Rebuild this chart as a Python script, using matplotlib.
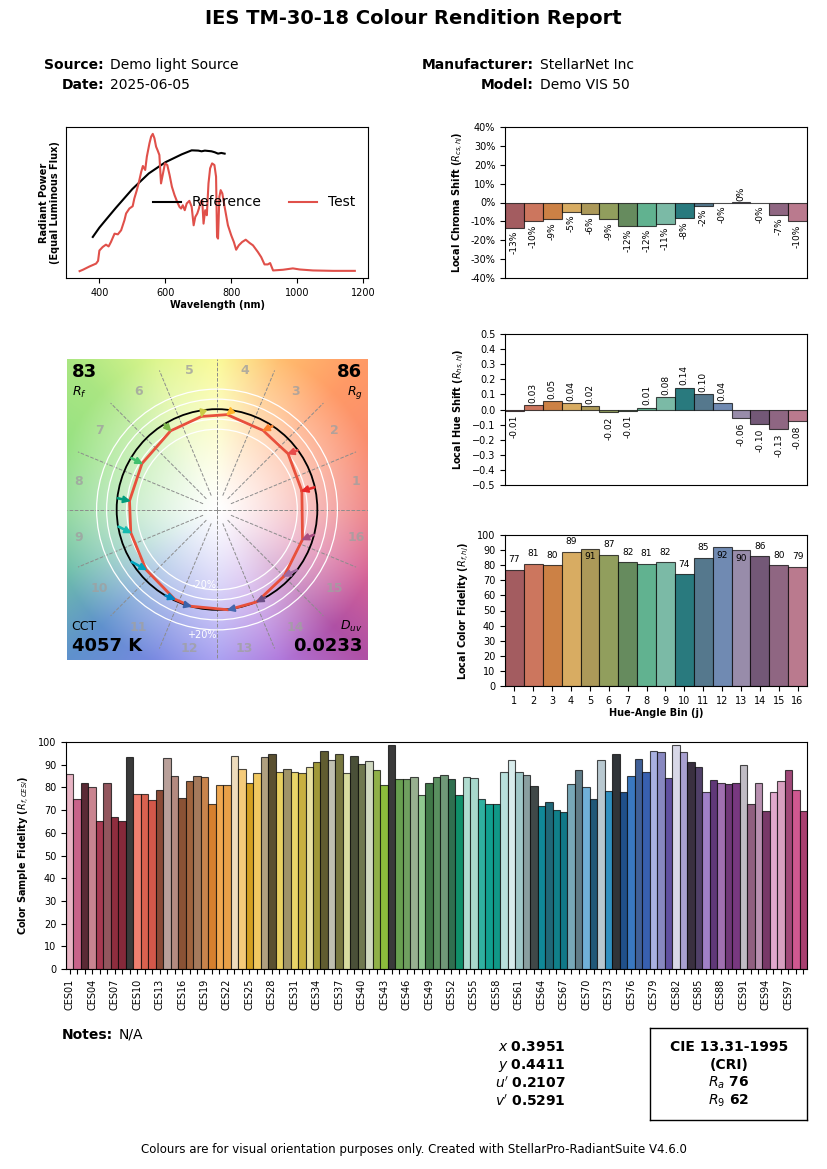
import numpy as np
import matplotlib

matplotlib.use("Agg")
import matplotlib.pyplot as plt  # noqa: E402
from matplotlib.colors import to_rgb  # noqa: E402
from matplotlib.patches import Circle  # noqa: E402
from matplotlib.ticker import FuncFormatter  # noqa: E402

W, H = 827, 1169

# ---- report metadata ----
TITLE = "IES TM-30-18 Colour Rendition Report"
SOURCE = "Demo light Source"
DATE = "2025-06-05"
MANUFACTURER = "StellarNet Inc"
MODEL = "Demo VIS 50"
NOTES = "N/A"
FOOTER = "Colours are for visual orientation purposes only. Created with StellarPro-RadiantSuite V4.6.0"

RF, RG = 83, 86
CCT, DUV = 4057, 0.0233
CIE_X, CIE_Y, CIE_U, CIE_V = 0.3951, 0.4411, 0.2107, 0.5291
CRI_RA, CRI_R9 = 76, 62

# ---- spectra (normalised to equal luminous flux) ----
WL_REF = [380, 400, 420, 450, 500, 550, 600, 650, 680, 700, 710, 720, 740, 750, 760, 770, 780]
P_REF = [0.249, 0.317, 0.375, 0.461, 0.598, 0.712, 0.793, 0.851, 0.880, 0.878, 0.873,
         0.878, 0.873, 0.866, 0.856, 0.861, 0.856]

WL_TEST = [340, 350, 370, 390, 396, 400, 410, 420, 428, 435, 446, 456, 466, 476, 481, 491,
           501, 506, 513, 519, 527, 532, 539, 544, 552, 557, 562, 567, 572, 577, 582, 587,
           592, 599, 606, 613, 620, 628, 636, 643, 648, 653, 659, 665, 673, 680, 686, 691,
           697, 702, 707, 712, 716, 721, 726, 731, 736, 742, 749, 754, 757, 760, 764, 768,
           773, 780, 790, 800, 808, 815, 823, 833, 844, 856, 866, 881, 891, 901, 911, 918,
           927, 957, 987, 1008, 1048, 1109, 1175]
P_TEST = [0.000, 0.010, 0.034, 0.055, 0.075, 0.150, 0.176, 0.193, 0.180, 0.212, 0.273, 0.268,
          0.298, 0.371, 0.420, 0.456, 0.473, 0.529, 0.585, 0.639, 0.724, 0.766, 0.737, 0.834,
          0.932, 0.980, 1.000, 0.968, 0.907, 0.878, 0.846, 0.639, 0.700, 0.785, 0.773, 0.700,
          0.615, 0.554, 0.505, 0.468, 0.456, 0.480, 0.444, 0.493, 0.512, 0.468, 0.334, 0.395,
          0.420, 0.456, 0.505, 0.517, 0.346, 0.444, 0.407, 0.639, 0.749, 0.785, 0.773, 0.688,
          0.249, 0.237, 0.541, 0.590, 0.566, 0.468, 0.334, 0.261, 0.212, 0.156, 0.188, 0.212,
          0.229, 0.205, 0.188, 0.139, 0.102, 0.049, 0.049, 0.059, 0.005, 0.010, 0.020, 0.012,
          0.005, 0.002, 0.002]

# ---- 16 hue-angle bins ----
BINS = list(range(1, 17))
BIN_COLORS = ["#A35C60", "#CC765E", "#CC8145", "#D8AC62", "#AC9959", "#919E5D", "#668B5E",
              "#61B290", "#7BBAA6", "#297A7E", "#55788D", "#708AB2", "#988CAA", "#735877",
              "#8F6682", "#BA7A8E"]
ARROW_COLORS = ["#e62828", "#e74b4b", "#fb812e", "#ffb529", "#cbca46", "#7eb94c", "#41c06d",
                "#009c7c", "#16bcb0", "#00a4bf", "#0085c3", "#3b62aa", "#4568ae", "#6a4e85",
                "#9d69a1", "#a74f81"]
RCS = [-0.134, -0.100, -0.090, -0.050, -0.060, -0.090, -0.123, -0.124, -0.114, -0.084,
       -0.017, -0.002, 0.004, -0.002, -0.066, -0.100]
RHS = [-0.007, 0.030, 0.054, 0.043, 0.024, -0.017, -0.007, 0.013, 0.083, 0.144, 0.100,
       0.043, -0.057, -0.096, -0.127, -0.076]
RF_BINS = [77, 81, 80, 89, 91, 87, 82, 81, 82, 74, 85, 92, 90, 86, 80, 79]
REF_HUE_DEG = [12.8, 36.2, 56.3, 81.3, 98.0, 121.6, 149.0, 173.5, 189.7, 211.3, 238.9,
               252.4, 279.6, 298.9, 323.0, 345.5]

# ---- 99 colour evaluation samples ----
CES_NAMES = [f"CES{i:02d}" for i in range(1, 100)]
CES_RF = [86, 75, 82, 80, 65, 82, 67, 65, 93.5, 77,
          77, 74.6, 79, 93, 85, 75.5, 83, 85, 84.5, 72.5,
          81, 81, 94, 88, 82, 86.5, 93.5, 94.5, 87, 88,
          87, 86.5, 89, 91, 96, 92, 94.5, 86.5, 94, 90.5,
          91.5, 87.5, 81, 98.8, 83.5, 83.5, 84.7, 76.5, 82, 84.7,
          85.3, 83.5, 76.5, 84.7, 84, 74.7, 72.8, 72.8, 86.6, 92,
          87, 85.3, 80.7, 72, 73.4, 70, 69.3, 81.3, 87.5, 80.1,
          75.1, 92.2, 78.5, 94.9, 78.1, 85.1, 92.6, 86.9, 96.2, 95.7,
          84, 98.8, 95.7, 91.3, 88.8, 78.1, 83.4, 82, 81.3, 82,
          90, 72.8, 82, 69.7, 77.8, 82.6, 87.5, 79, 69.7]
CES_COLORS = ["#e8b4c4", "#c8638a", "#5a2a35", "#c98490", "#a83a52", "#93565e", "#8e2d3e",
              "#86293a", "#3a3a3a", "#f08070", "#d9614f", "#d4584a", "#8a4a36", "#b9a09a",
              "#b48a80", "#8a5235", "#a0643e", "#a57a5c", "#c8844c", "#d6802e", "#f0a850",
              "#e8a048", "#eedcbc", "#f5cb7a", "#d4a020", "#f0c860", "#b0a080", "#5a5030",
              "#e8d060", "#a09468", "#e8d468", "#c8b040", "#e8e0a0", "#a09838", "#605c30",
              "#c0c0b0", "#787840", "#d8dca0", "#4a5038", "#707850", "#d0d8c0", "#90b048",
              "#8cbc3c", "#3a3a3a", "#68a050", "#70a060", "#98b090", "#90c890", "#407848",
              "#5a9060", "#709878", "#307050", "#10906a", "#b0dcd0", "#a8d8cc", "#30b0a0",
              "#10a090", "#109888", "#b8e0dc", "#d8ecec", "#a0c8c8", "#8a9fa0", "#404848",
              "#108898", "#206878", "#10808a", "#107888", "#78a8b8", "#607c88", "#70b0d8",
              "#205878", "#b8c8d0", "#3090c0", "#303438", "#20508a", "#3a78c0", "#406098",
              "#3860b0", "#a8b0e0", "#8888c0", "#6050a0", "#d8d8e8", "#a8a0d0", "#3a3040",
              "#504068", "#a080c8", "#603878", "#a070b0", "#703878", "#783880", "#c0bcc4",
              "#906080", "#b890b0", "#783868", "#e0a8cc", "#d8a0c0", "#a04878", "#d05890",
              "#a84070"]

# ---- background hues for the colour vector graphic ----
BG_ANGLES = [0, 22.5, 45, 67.5, 90, 112.5, 135, 157.5, 180, 202.5, 225, 247.5, 270,
             292.5, 315, 337.5]
BG_COLORS = ["#ee7d7d", "#fa8c6e", "#ff9a66", "#ffbe6e", "#fafa8c", "#dcf58c", "#aae682",
             "#96e182", "#8cd796", "#6ebeaa", "#5f91cd", "#7888e1", "#a096f0", "#af78dc",
             "#af50a5", "#d76496"]

TICK_FS = 7
LABEL_FS = 7


def rect(x0, y0, x1, y1):
    return [x0 / W, 1 - y1 / H, (x1 - x0) / W, (y1 - y0) / H]


def fx(x):
    return x / W


def fy(y):
    return 1 - y / H


def bin_bars(ax, values):
    return ax.bar(range(16), values, width=1.0, color=BIN_COLORS,
                  edgecolor=(0, 0, 0, 0.7), linewidth=0.8)


def pct(v, _):
    v = round(v * 100)
    return f"{v:.0f}%" if v != 0 else "0%"


def cvg_background(n=400):
    g = np.linspace(-1.5, 1.5, n)
    xx, yy = np.meshgrid(g, g)
    ang = np.degrees(np.arctan2(yy, xx)) % 360
    r = np.hypot(xx, yy)
    angs = np.array(BG_ANGLES + [360])
    cols = np.array([to_rgb(c) for c in BG_COLORS + [BG_COLORS[0]]])
    rgb = np.stack([np.interp(ang, angs, cols[:, k]) for k in range(3)], axis=-1)
    s = (np.clip(r / 1.65, 0, 1) ** 1.2)[..., None]
    return 1 - s * (1 - rgb)


fig = plt.figure(figsize=(W / 100, H / 100), dpi=100)

# ---- header ----
fig.text(0.5, fy(18), TITLE, ha="center", va="center", fontsize=14, fontweight="bold")
for label, value, xr, yy in [("Source:", SOURCE, 104, 65), ("Date:", DATE, 104, 85),
                             ("Manufacturer:", MANUFACTURER, 534, 65), ("Model:", MODEL, 534, 85)]:
    fig.text(fx(xr), fy(yy), label, ha="right", va="center", fontsize=10, fontweight="bold")
    fig.text(fx(xr + 6), fy(yy), value, ha="left", va="center", fontsize=10)

# ---- spectra ----
ax = fig.add_axes(rect(66, 127, 368, 278))
ax.plot(WL_REF, P_REF, color="black", lw=1.5, label="Reference")
ax.plot(WL_TEST, P_TEST, color="#e0504a", lw=1.5, label="Test")
ax.set_xlim(298.7, 1215)
ax.set_ylim(-0.05, 1.05)
ax.set_xticks([400, 600, 800, 1000, 1200])
ax.set_yticks([])
ax.tick_params(labelsize=TICK_FS)
ax.set_xlabel("Wavelength (nm)", fontsize=LABEL_FS, fontweight="bold", labelpad=2)
ax.set_ylabel("Radiant Power\n(Equal Luminous Flux)", fontsize=LABEL_FS, fontweight="bold")
ax.legend(loc="center right", ncol=2, frameon=False, fontsize=10)

# ---- local chroma shift ----
ax = fig.add_axes(rect(505, 127, 807, 278))
bin_bars(ax, RCS)
for i, v in enumerate(RCS):
    txt = f"{v * 100:.0f}%"
    if v >= 0:
        ax.text(i, v + 0.003, txt, rotation=90, ha="center", va="bottom", fontsize=6.5)
    else:
        ax.text(i, v - 0.015, txt, rotation=90, ha="center", va="top", fontsize=6.5)
ax.set_xlim(-0.5, 15.5)
ax.set_ylim(-0.4, 0.4)
ax.set_yticks(np.round(np.arange(-0.4, 0.41, 0.1), 2))
ax.yaxis.set_major_formatter(FuncFormatter(pct))
ax.set_xticks([])
ax.tick_params(labelsize=TICK_FS)
ax.set_ylabel(r"Local Chroma Shift ($R_{cs,hj}$)", fontsize=LABEL_FS, fontweight="bold")

# ---- local hue shift ----
ax = fig.add_axes(rect(505, 334, 807, 485))
bin_bars(ax, RHS)
for i, v in enumerate(RHS):
    txt = f"{v:.2f}"
    if v >= 0:
        ax.text(i, v + 0.015, txt, rotation=90, ha="center", va="bottom", fontsize=6.5)
    else:
        ax.text(i, v - 0.03, txt, rotation=90, ha="center", va="top", fontsize=6.5)
ax.set_xlim(-0.5, 15.5)
ax.set_ylim(-0.5, 0.5)
ax.set_yticks(np.round(np.arange(-0.5, 0.51, 0.1), 1))
ax.set_xticks([])
ax.tick_params(labelsize=TICK_FS)
ax.set_ylabel(r"Local Hue Shift ($R_{hs,hj}$)", fontsize=LABEL_FS, fontweight="bold")

# ---- local colour fidelity ----
ax = fig.add_axes(rect(505, 535, 807, 686))
bin_bars(ax, RF_BINS)
for i, v in enumerate(RF_BINS):
    if v >= 90:
        ax.text(i, v - 2.3, f"{v}", ha="center", va="top", fontsize=6.5)
    else:
        ax.text(i, v + 3.5, f"{v}", ha="center", va="bottom", fontsize=6.5)
ax.set_xlim(-0.5, 15.5)
ax.set_ylim(0, 100)
ax.set_yticks(range(0, 101, 10))
ax.set_xticks(range(16))
ax.set_xticklabels([str(b) for b in BINS])
ax.tick_params(labelsize=TICK_FS)
ax.set_xlabel("Hue-Angle Bin (j)", fontsize=LABEL_FS, fontweight="bold", labelpad=2)
ax.set_ylabel(r"Local Color Fidelity ($R_{f,hj}$)", fontsize=LABEL_FS, fontweight="bold")

# ---- colour vector graphic ----
ax = fig.add_axes(rect(66, 359, 368, 660))
ax.imshow(cvg_background(), extent=[-1.5, 1.5, -1.5, 1.5], origin="lower", zorder=0,
          interpolation="bilinear")
for k in range(16):
    a = np.radians(k * 22.5)
    r0 = 0.0 if k % 4 == 0 else 0.15
    ax.plot([r0 * np.cos(a), 1.5 * np.cos(a)], [r0 * np.sin(a), 1.5 * np.sin(a)],
            ls="--", color="#8c8c8c", lw=0.7, zorder=1)
for rad in [0.8, 0.9, 1.1, 1.2]:
    ax.add_patch(Circle((0, 0), rad, fill=False, color="white", lw=0.9, zorder=2))
ax.add_patch(Circle((0, 0), 1.0, fill=False, color="black", lw=1.3, zorder=3))

h = np.radians(REF_HUE_DEG)
rcs = np.array(RCS)
rhs = np.array(RHS)
ref_x, ref_y = np.cos(h), np.sin(h)
test_x = ref_x * (1 + rcs) - np.sin(h) * rhs
test_y = ref_y * (1 + rcs) + np.cos(h) * rhs
ax.plot(np.append(test_x, test_x[0]), np.append(test_y, test_y[0]), color="#e8503c",
        lw=2.0, zorder=4)
for k in range(16):
    ax.arrow(ref_x[k], ref_y[k], test_x[k] - ref_x[k], test_y[k] - ref_y[k],
             length_includes_head=True, width=0.012, head_width=0.065, head_length=0.07,
             color=ARROW_COLORS[k], zorder=5)
for k in range(16):
    a = np.radians((k + 0.5) * 22.5)
    ax.text(1.41 * np.cos(a), 1.41 * np.sin(a), str(k + 1), ha="center", va="center",
            fontsize=9, fontweight="bold", color="#a0a0a0", alpha=0.8, zorder=6)
ax.text(0, -0.8, "-20%", ha="right", va="bottom", color="white", fontsize=7, zorder=6)
ax.text(0, -1.2, "+20%", ha="right", va="top", color="white", fontsize=7, zorder=6)
ax.text(-1.45, 1.37, f"{RF}", ha="left", va="center", fontsize=13, fontweight="bold")
ax.text(-1.45, 1.17, r"$R_f$", ha="left", va="center", fontsize=9)
ax.text(1.45, 1.37, f"{RG}", ha="right", va="center", fontsize=13, fontweight="bold")
ax.text(1.45, 1.17, r"$R_g$", ha="right", va="center", fontsize=9)
ax.text(-1.45, -1.17, "CCT", ha="left", va="center", fontsize=9)
ax.text(-1.45, -1.36, f"{CCT} K", ha="left", va="center", fontsize=13, fontweight="bold")
ax.text(1.45, -1.17, r"$D_{uv}$", ha="right", va="center", fontsize=9)
ax.text(1.45, -1.36, f"{DUV:.4f}", ha="right", va="center", fontsize=13, fontweight="bold")
ax.set_xlim(-1.5, 1.5)
ax.set_ylim(-1.5, 1.5)
ax.set_axis_off()

# ---- colour sample fidelity ----
ax = fig.add_axes(rect(66, 742, 807, 969))
ax.bar(range(len(CES_RF)), CES_RF, width=1.0, color=CES_COLORS,
       edgecolor=(0, 0, 0, 0.7), linewidth=0.8)
ax.set_xlim(-0.5, len(CES_RF) - 0.5)
ax.set_ylim(0, 100)
ax.set_yticks(range(0, 101, 10))
ax.set_xticks(range(len(CES_NAMES)))
ax.set_xticklabels([n if i % 3 == 0 else "" for i, n in enumerate(CES_NAMES)], rotation=90)
ax.tick_params(labelsize=TICK_FS)
ax.set_ylabel(r"Color Sample Fidelity ($R_{f,CESi}$)", fontsize=LABEL_FS, fontweight="bold")

# ---- notes, chromaticity and CRI ----
fig.text(fx(62), fy(1035), "Notes:", ha="left", va="center", fontsize=10, fontweight="bold")
fig.text(fx(119), fy(1035), NOTES, ha="left", va="center", fontsize=10)
for k, (lab, val) in enumerate([("x", CIE_X), ("y", CIE_Y), ("u'", CIE_U), ("v'", CIE_V)]):
    fig.text(fx(566), fy(1047 + 18 * k), rf"${lab}$ $\mathbf{{{val:.4f}}}$",
             ha="right", va="center", fontsize=10)

box = fig.add_axes(rect(650, 1028, 807, 1120))
box.set_xticks([])
box.set_yticks([])
for sp in box.spines.values():
    sp.set_linewidth(1.0)
cri_lines = ["CIE 13.31-1995", "(CRI)", rf"$R_a$ $\mathbf{{{CRI_RA}}}$",
             rf"$R_9$ $\mathbf{{{CRI_R9}}}$"]
for k, line in enumerate(cri_lines):
    fig.text(fx(729), fy(1047 + 18 * k), line, ha="center", va="center", fontsize=10,
             fontweight="bold")

fig.text(0.5, fy(1150), FOOTER, ha="center", va="center", fontsize=8.5)

fig.savefig("out.png", dpi=100)
plt.close(fig)
